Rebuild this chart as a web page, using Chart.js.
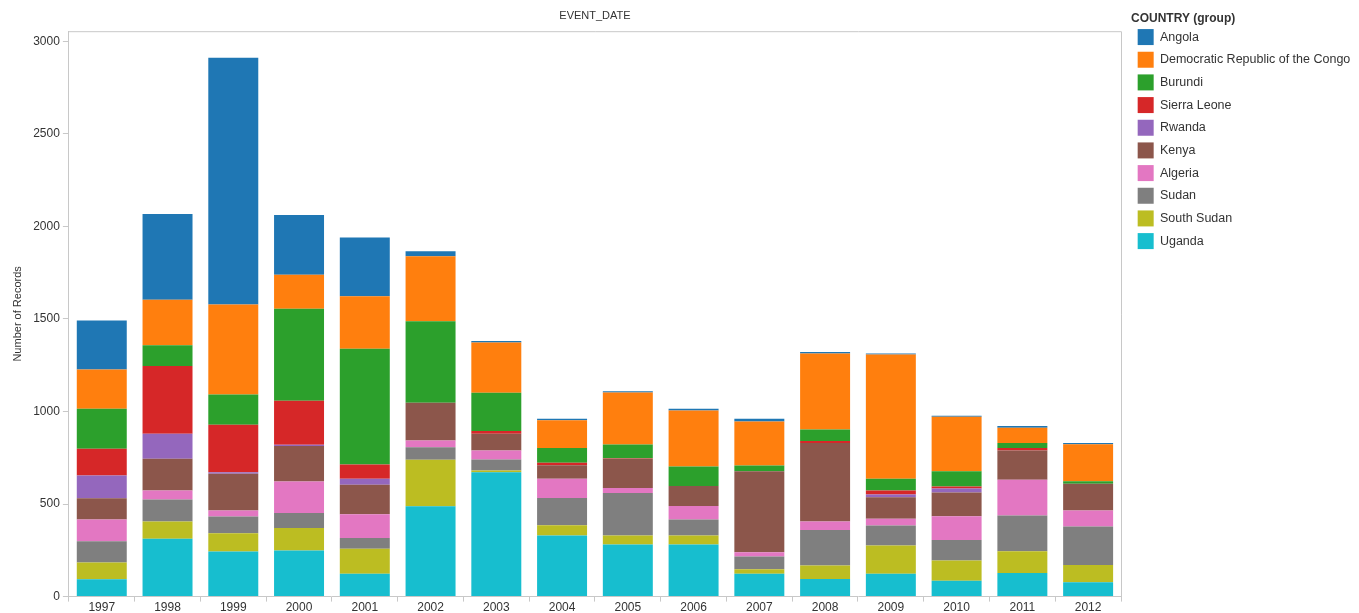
<!DOCTYPE html>
<html>
<head>
<meta charset="utf-8">
<title>Number of Records by EVENT_DATE</title>
<script src="https://cdn.jsdelivr.net/npm/chart.js@4/dist/chart.umd.min.js"></script>
<style>
    html, body { margin: 0; padding: 0; background: #fff; }
    canvas { display: block; }
</style>
</head>
<body>
<canvas id="eventsChart" width="1359" height="613"></canvas>
<script>
'use strict'

/**
 * Data
 */

const years = ['1997', '1998', '1999', '2000', '2001', '2002', '2003', '2004',
    '2005', '2006', '2007', '2008', '2009', '2010', '2011', '2012'];

const angola      = [265, 462, 1332, 322, 317,  27,   7,   7,   7,   9,  14,   8,   5,   6,   9,   6];
const drCongo     = [213, 247,  486, 184, 283, 351, 272, 151, 281, 302, 238, 410, 672, 294,  83, 200];
const burundi     = [216, 112,  164, 497, 626, 440, 207,  79,  74, 105,  31,  63,  63,  82,  27,  14];
const sierraLeone = [144, 366,  256, 238,  77,   0,  15,  13,   3,   0,   0,  11,  22,  11,  13,   0];
const rwanda      = [123, 135,    9,   6,  32,   0,   0,   0,   0,   0,   0,   0,  14,  22,   0,   0];
const kenya       = [115, 171,  198, 192, 159, 204,  90,  74, 157, 108, 437, 424, 117, 128, 158, 144];
const algeria     = [117,  49,   33, 170, 128,  36,  48, 104,  27,  74,  24,  45,  36, 128, 193,  87];
const sudan       = [115, 119,   90,  81,  59,  68,  60, 146, 230,  86,  68, 192, 108, 111, 193, 207];
const southSudan  = [ 90,  93,   99, 122, 135, 251,   9,  56,  49,  49,  25,  73, 153, 109, 117,  94];
const uganda      = [ 94, 312,  243, 249, 123, 488, 672, 330, 281, 281, 123,  95, 123,  86, 128,  77];

const yTicks = [0, 500, 1000, 1500, 2000, 2500, 3000];

// bottom of the stack first, legend is shown reversed
const series = [
    ['Uganda', uganda, '#17becf'],
    ['South Sudan', southSudan, '#bcbd22'],
    ['Sudan', sudan, '#7f7f7f'],
    ['Algeria', algeria, '#e377c2'],
    ['Kenya', kenya, '#8c564b'],
    ['Rwanda', rwanda, '#9467bd'],
    ['Sierra Leone', sierraLeone, '#d62728'],
    ['Burundi', burundi, '#2ca02c'],
    ['Democratic Republic of the Congo', drCongo, '#ff7f0e'],
    ['Angola', angola, '#1f77b4']
];

const font = "'Liberation Sans', Arial, sans-serif";
const textColor = '#333333';

// light frame round the plot area (top / right)
const plotFrame = {
    id: 'plotFrame',
    beforeDatasetsDraw(chart) {
        const a = chart.chartArea;
        const c = chart.ctx;
        c.save();
        c.strokeStyle = '#c8c8c8';
        c.lineWidth = 1;
        c.beginPath();
        c.moveTo(a.left, a.top + 0.5);
        c.lineTo(a.right + 0.5, a.top + 0.5);
        c.lineTo(a.right + 0.5, a.bottom);
        c.stroke();
        c.restore();
    }
};

var ctx = document.getElementById('eventsChart');
var eventsChart = new Chart(ctx, {
    type: 'bar',
    data: {
        labels: years,
        datasets: series.map(function (s) {
            return {
                label: s[0],
                data: s[1],
                backgroundColor: s[2],
                borderWidth: 0,
                barPercentage: 0.76,
                categoryPercentage: 1
            };
        })
    },
    plugins: [plotFrame],
    options: {
        responsive: false,
        animation: false,
        layout: {
            padding: { left: 11, right: 4, top: 0, bottom: -1 }
        },
        scales: {
            x: {
                stacked: true,
                grid: { drawOnChartArea: false, offset: true, tickLength: 5, color: '#c8c8c8' },
                border: { color: '#c8c8c8' },
                ticks: { color: textColor, padding: -1, font: { family: font, size: 12 } }
            },
            y: {
                stacked: true,
                min: 0,
                max: 3054,
                afterBuildTicks: function (scale) {
                    scale.ticks = yTicks.map(function (v) { return { value: v }; });
                },
                grid: { drawOnChartArea: false, tickLength: 6, color: '#c8c8c8' },
                border: { color: '#c8c8c8' },
                ticks: {
                    color: textColor,
                    padding: 3,
                    font: { family: font, size: 12 },
                    callback: function (value) { return String(value); }
                },
                title: {
                    display: true,
                    text: 'Number of Records',
                    color: textColor,
                    font: { family: font, size: 11 },
                    padding: { top: 0, bottom: 6 }
                }
            },
            // empty axis, only keeps a gap between the plot and the legend
            gap: {
                type: 'linear',
                position: 'right',
                grid: { display: false },
                border: { display: false },
                ticks: { display: false },
                afterFit: function (scale) { scale.width = 10; }
            }
        },
        plugins: {
            title: {
                display: true,
                text: 'EVENT_DATE',
                fullSize: false,
                color: textColor,
                font: { family: font, size: 11, weight: 'normal' },
                padding: { top: 9, bottom: 9 }
            },
            legend: {
                position: 'right',
                align: 'start',
                reverse: true,
                title: {
                    display: true,
                    text: 'COUNTRY (group)',
                    position: 'start',
                    color: textColor,
                    font: { family: font, size: 12, weight: 'bold' },
                    padding: { top: 13, bottom: -5 }
                },
                labels: {
                    boxWidth: 16,
                    boxHeight: 16,
                    padding: 6.67,
                    color: textColor,
                    font: { family: font, size: 12.5 }
                }
            },
            tooltip: { enabled: false }
        }
    }
});
</script>
</body>
</html>
